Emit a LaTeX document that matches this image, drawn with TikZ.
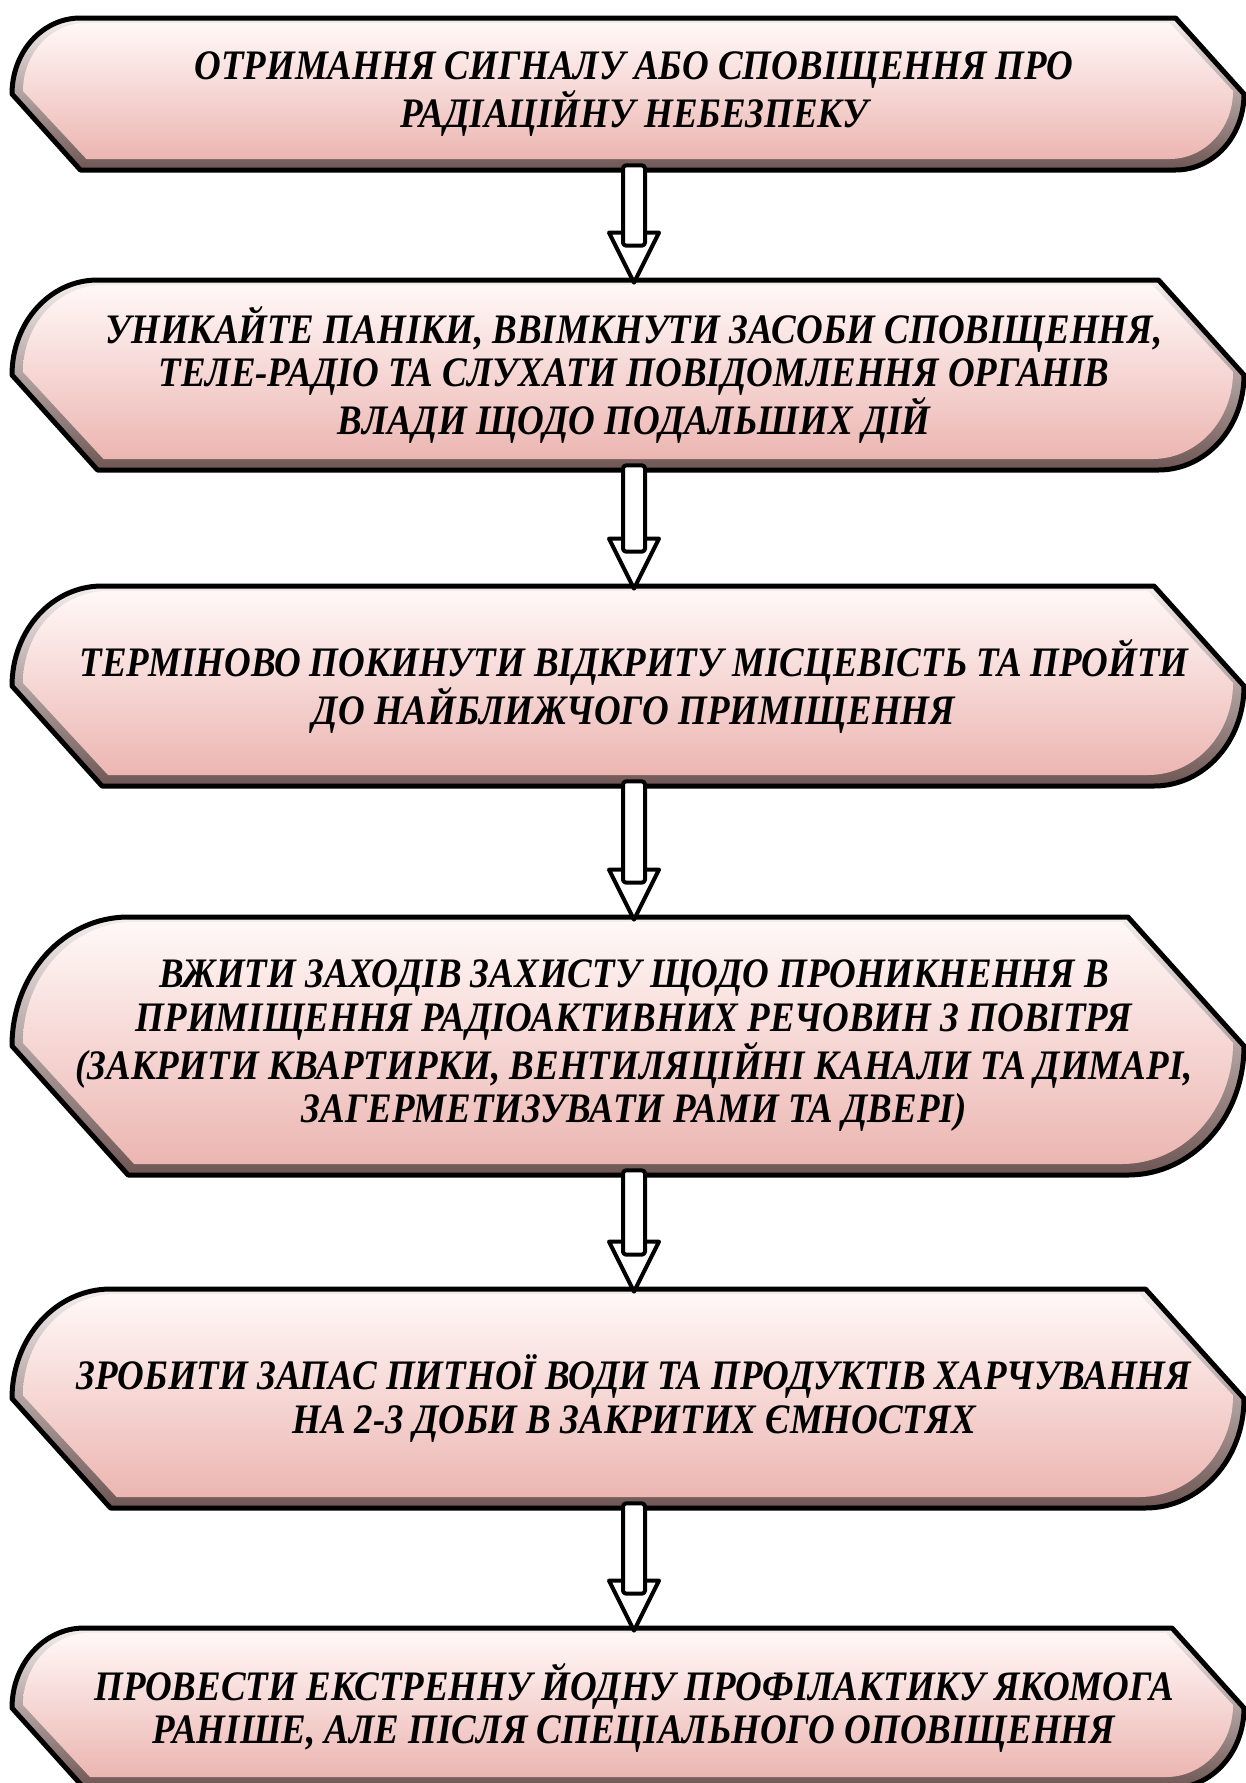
\documentclass[tikz,border=0pt]{standalone}
\usepackage{fontspec}
\setmainfont[FakeStretch=0.88]{Liberation Serif}
\usetikzlibrary{calc}
\definecolor{pinktop}{HTML}{FFF8F7}
\definecolor{pinkmid}{HTML}{F4D4D1}
\definecolor{pinkbot}{HTML}{ECB6B2}
\definecolor{bevtop}{HTML}{F4EEED}
\definecolor{bevbot}{HTML}{6E5654}

% sign shape: left x, right x, top y, bottom y, diagonal offset
\newcommand{\signshape}[6][]{%
  \pgfmathsetmacro{\ymid}{(#4+#5)/2}%
  \pgfmathsetmacro{\yhalf}{0.28*(#5-#4)}%
  \path[#1] (#2+#6,#4) -- (#3-#6,#4) -- (#3,\ymid)
    .. controls (#3,\ymid+\yhalf) and (#3-0.45*#6,#5) .. (#3-#6,#5)
    -- (#2+#6,#5) -- (#2,\ymid)
    .. controls (#2,\ymid-\yhalf) and (#2+0.45*#6,#4) .. (#2+#6,#4) -- cycle;}

\begin{document}
\begin{tikzpicture}[x=0.5pt,y=-0.5pt,line cap=round,
    steptext/.style={align=center,inner sep=0pt,
      font=\fontsize{21}{21.75}\selectfont\bfseries\itshape},
    signline/.style={draw=black,line width=2.5pt,line join=round},
    arrowline/.style={draw=black,fill=white,line width=2pt,line join=round}]
  \useasboundingbox (0,0) rectangle (1246,1783);
  \foreach \nm/\yt/\yb/\txt in {
      s1/18/170/{ОТРИМАННЯ СИГНАЛУ АБО СПОВІЩЕННЯ ПРО\\РАДІАЦІЙНУ НЕБЕЗПЕКУ},
      s2/280/470/{УНИКАЙТЕ ПАНІКИ, ВВІМКНУТИ ЗАСОБИ СПОВІЩЕННЯ,\\ТЕЛЕ-РАДІО ТА СЛУХАТИ ПОВІДОМЛЕННЯ ОРГАНІВ\\ВЛАДИ ЩОДО ПОДАЛЬШИХ ДІЙ},
      s3/586/786/{ТЕРМІНОВО ПОКИНУТИ ВІДКРИТУ МІСЦЕВІСТЬ ТА ПРОЙТИ\\ДО НАЙБЛИЖЧОГО ПРИМІЩЕННЯ},
      s4/917/1175/{ВЖИТИ ЗАХОДІВ ЗАХИСТУ ЩОДО ПРОНИКНЕННЯ В\\ПРИМІЩЕННЯ РАДІОАКТИВНИХ РЕЧОВИН З ПОВІТРЯ\\(ЗАКРИТИ КВАРТИРКИ, ВЕНТИЛЯЦІЙНІ КАНАЛИ ТА ДИМАРІ,\\ЗАГЕРМЕТИЗУВАТИ РАМИ ТА ДВЕРІ)},
      s5/1289/1508/{ЗРОБИТИ ЗАПАС ПИТНОЇ ВОДИ ТА ПРОДУКТІВ ХАРЧУВАННЯ\\НА 2-3 ДОБИ В ЗАКРИТИХ ЄМНОСТЯХ},
      s6/1628/1788/{ПРОВЕСТИ ЕКСТРЕННУ ЙОДНУ ПРОФІЛАКТИКУ ЯКОМОГА\\РАНІШЕ, АЛЕ ПІСЛЯ СПЕЦІАЛЬНОГО ОПОВІЩЕННЯ}}{
    \pgfmathsetmacro{\dd}{0.45*(\yb-\yt)}
    \pgfmathsetmacro{\di}{\dd-5}
    \pgfmathsetmacro{\ta}{\yt+5}
    \pgfmathsetmacro{\tb}{\yb-11}
    \signshape[top color=bevtop,bottom color=bevbot]{12}{1244}{\yt}{\yb}{\dd}
    \signshape[top color=pinktop,middle color=pinkmid,bottom color=pinkbot]{23}{1233}{\ta}{\tb}{\di}
    \signshape[signline]{12}{1244}{\yt}{\yb}{\dd}
    \node[steptext,minimum height={(\yb-\yt)*0.5pt}] (\nm) at (634,{(\yt+\yb)/2}) {\txt};
  }
  % hollow arrows between the steps
  \foreach \a/\b in {s1/s2,s2/s3,s3/s4,s4/s5,s5/s6}{
    \coordinate (tip) at ($(\b.north)+(0,3)$);
    \filldraw[arrowline] ($(tip)+(-25,-50)$) -- (tip) -- ($(tip)+(25,-50)$) -- cycle;
    \filldraw[arrowline,rounded corners=1.5pt] ($(\a.south)+(-11,-5)$) rectangle ($(tip)+(11,-37)$);
  }
\end{tikzpicture}
\end{document}
